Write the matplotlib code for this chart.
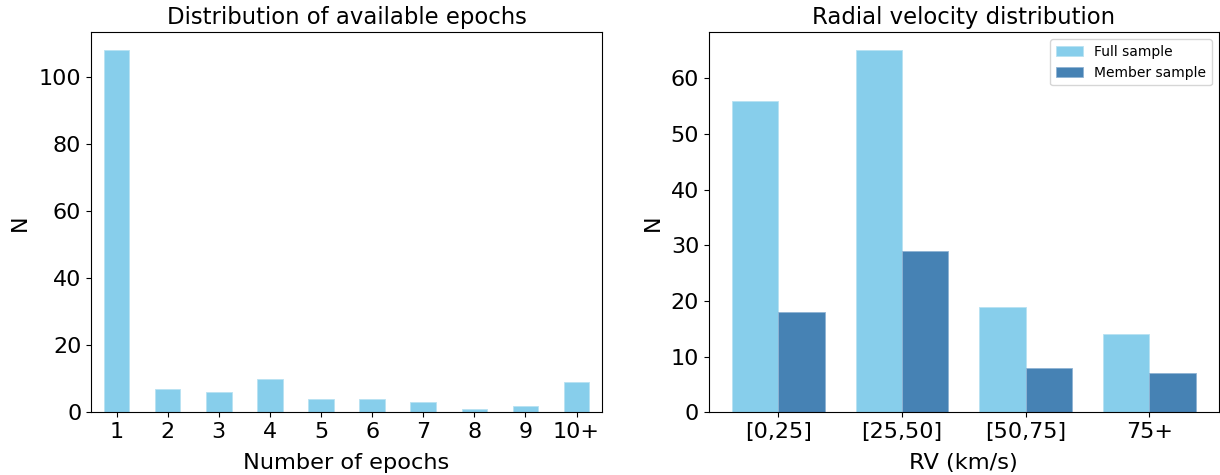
import numpy as np
import matplotlib
matplotlib.use("Agg")
import matplotlib.pyplot as plt

# 数据
epoch_labels = ["1", "2", "3", "4", "5", "6", "7", "8", "9", "10+"]
epoch_counts = [108, 7, 6, 10, 4, 4, 3, 1, 2, 9]

rv_bins = ["[0,25]", "[25,50]", "[50,75]", "75+"]
rv_full = [56, 65, 19, 14]
rv_member = [18, 29, 8, 7]

FS = 16
fig = plt.figure(figsize=(12.2, 4.75), dpi=100)
ax1 = fig.add_axes([0.0746, 0.1320, 0.4189, 0.80])
ax2 = fig.add_axes([0.5811, 0.1320, 0.4180, 0.80])

# 左: epochs
x = np.arange(len(epoch_labels))
ax1.bar(x, epoch_counts, width=0.5, color="skyblue", edgecolor="#b8e2f2", lw=0.6)
ax1.set_xlim(-0.5, len(x) - 0.5)
ax1.set_ylim(0, max(epoch_counts) * 1.05)
ax1.set_xticks(x)
ax1.set_xticklabels(epoch_labels)
ax1.set_title("Distribution of available epochs", fontsize=16.4)
ax1.set_xlabel("Number of epochs", fontsize=16.2, labelpad=8)
ax1.set_ylabel("N", fontsize=FS, labelpad=6)
ax1.tick_params(labelsize=FS)

# 右: RV, 两组并排(默认 margins)
xr = np.arange(len(rv_bins))
w = 0.375
ax2.bar(xr - w / 2, rv_full, width=w, color="skyblue", edgecolor="#b8e2f2",
        lw=0.6, label="Full sample")
ax2.bar(xr + w / 2, rv_member, width=w, color="steelblue", edgecolor="#8fb3d4",
        lw=0.6, label="Member sample")
ax2.set_ylim(0, max(rv_full) * 1.05)
ax2.set_xticks(xr)
ax2.set_xticklabels(rv_bins)
ax2.set_title("Radial velocity distribution", fontsize=16.4)
ax2.set_xlabel("RV (km/s)", fontsize=16.2, labelpad=8)
ax2.set_ylabel("N", fontsize=FS, labelpad=6)
ax2.tick_params(labelsize=FS)
ax2.legend(loc="upper right", fontsize=10)

fig.savefig("out.png", dpi=100)
